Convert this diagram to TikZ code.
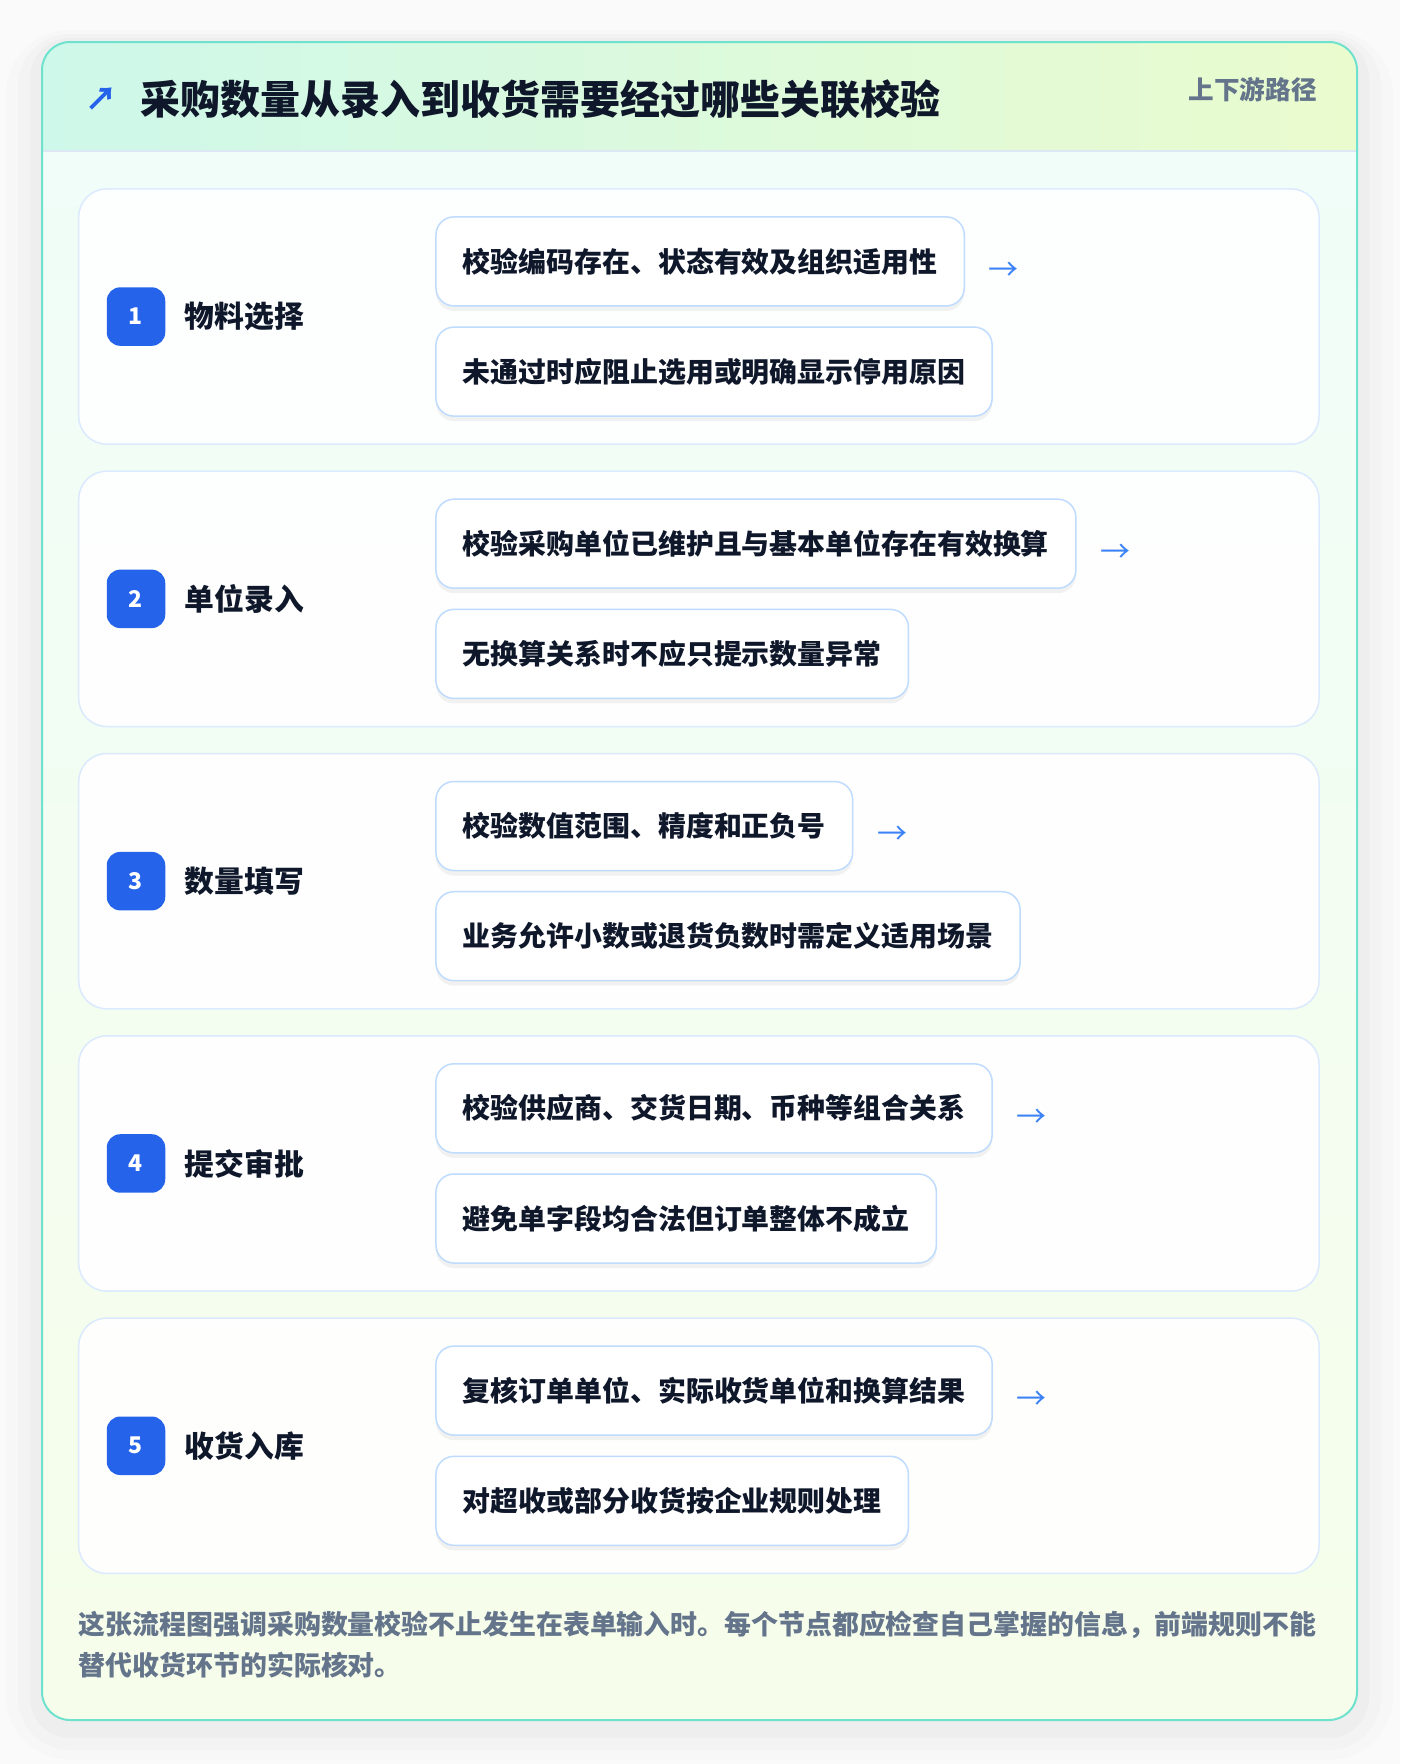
\documentclass[tikz,border=0pt]{standalone}
\usepackage{fontspec}
\setmainfont{Noto Sans CJK SC}
\usetikzlibrary{shadows}

\definecolor{pagebg}{RGB}{250,250,251}
\definecolor{cardline}{RGB}{110,226,205}
\definecolor{headleft}{RGB}{206,248,234}
\definecolor{headright}{RGB}{234,251,206}
\definecolor{bodytop}{RGB}{240,253,248}
\definecolor{bodybottom}{RGB}{246,253,234}
\definecolor{headrule}{RGB}{220,233,245}
\definecolor{rowline}{RGB}{219,234,254}
\definecolor{chkline}{RGB}{191,219,254}
\definecolor{badgeblue}{RGB}{37,99,235}
\definecolor{arrowblue}{RGB}{59,130,246}
\definecolor{ink}{RGB}{15,23,42}
\definecolor{muted}{RGB}{100,116,139}

\begin{document}
\begin{tikzpicture}[x=1pt,y=-1pt,
    rowbox/.style={draw=rowline, line width=1.5pt, fill=white, fill opacity=0.9,
        rounded corners=28pt, minimum width=1240.3pt, minimum height=255.3pt, inner sep=0pt},
    badge/.style={fill=badgeblue, text=white, rounded corners=13.5pt, minimum size=58.5pt,
        inner sep=0pt, font=\fontsize{23}{23}\selectfont\bfseries},
    steplabel/.style={anchor=west, inner sep=0pt, text=ink, font=\fontsize{29.8}{30}\selectfont\bfseries},
    chkbox/.style={anchor=west, draw=chkline, line width=1.5pt, fill=white, rounded corners=18pt,
        minimum height=89pt, inner xsep=27pt, inner ysep=0pt, text=ink,
        font=\fontsize{27.9}{28}\selectfont\bfseries,
        drop shadow={shadow xshift=0pt, shadow yshift=-5pt, opacity=0.05, fill=black}},
    nextarrow/.style={anchor=west, inner sep=0pt, xshift=23.6pt, yshift=-9.5pt, text=arrowblue,
        font=\fontsize{30}{30}\selectfont}]
\useasboundingbox (0,0) rectangle (1400,1764);
\fill[pagebg] (0,0) rectangle (1400,1764);

% card shadow
\fill[black, opacity=0.012, rounded corners=64pt] (6,30) rectangle (1393,1760);
\fill[black, opacity=0.015, rounded corners=52pt] (18,34) rectangle (1381,1750);
\fill[black, opacity=0.02, rounded corners=40pt] (30,38) rectangle (1369,1738);

% card
\begin{scope}
    \clip[rounded corners=28pt] (42,42) rectangle (1357,1720);
    \shade[top color=bodytop, bottom color=bodybottom] (42,151) rectangle (1357,1720);
    \shade[left color=headleft, right color=headright] (42,42) rectangle (1357,151);
    \draw[headrule, line width=1.5pt] (42,151) -- (1357,151);
\end{scope}
\draw[cardline, line width=2pt, rounded corners=28pt] (42,42) rectangle (1357,1720);

% header
\node[text=badgeblue, font=\fontsize{32}{32}\selectfont\bfseries, inner sep=0pt] (icon) at (101,99) {↗};
\node[anchor=west, inner sep=0pt, text=ink, font=\fontsize{40}{40}\selectfont\bfseries] (title) at (140.6,99)
    {采购数量从录入到收货需要经过哪些关联校验};
\node[anchor=east, inner sep=0pt, text=muted, font=\fontsize{25.6}{26}\selectfont\bfseries] (tag) at (1316.8,90)
    {上下游路径};

% step 1
\begin{scope}[shift={(0,188.9)}]
    \node[rowbox] (row1) at (698.85,127.65) {};
    \node[badge] (badge1) at (136,127.65) {1};
    \node[steplabel] (label1) at (184.4,127.65) {物料选择};
    \node[chkbox] (chk1a) at (435.2,72.5) {校验编码存在、状态有效及组织适用性};
    \node[chkbox] (chk1b) at (435.2,182.7) {未通过时应阻止选用或明确显示停用原因};
    \node[nextarrow] (arr1) at (chk1a.east) {→};
\end{scope}

% step 2
\begin{scope}[shift={(0,471.2)}]
    \node[rowbox] (row2) at (698.85,127.65) {};
    \node[badge] (badge2) at (136,127.65) {2};
    \node[steplabel] (label2) at (184.4,127.65) {单位录入};
    \node[chkbox] (chk2a) at (435.2,72.5) {校验采购单位已维护且与基本单位存在有效换算};
    \node[chkbox] (chk2b) at (435.2,182.7) {无换算关系时不应只提示数量异常};
    \node[nextarrow] (arr2) at (chk2a.east) {→};
\end{scope}

% step 3
\begin{scope}[shift={(0,753.5)}]
    \node[rowbox] (row3) at (698.85,127.65) {};
    \node[badge] (badge3) at (136,127.65) {3};
    \node[steplabel] (label3) at (184.4,127.65) {数量填写};
    \node[chkbox] (chk3a) at (435.2,72.5) {校验数值范围、精度和正负号};
    \node[chkbox] (chk3b) at (435.2,182.7) {业务允许小数或退货负数时需定义适用场景};
    \node[nextarrow] (arr3) at (chk3a.east) {→};
\end{scope}

% step 4
\begin{scope}[shift={(0,1035.8)}]
    \node[rowbox] (row4) at (698.85,127.65) {};
    \node[badge] (badge4) at (136,127.65) {4};
    \node[steplabel] (label4) at (184.4,127.65) {提交审批};
    \node[chkbox] (chk4a) at (435.2,72.5) {校验供应商、交货日期、币种等组合关系};
    \node[chkbox] (chk4b) at (435.2,182.7) {避免单字段均合法但订单整体不成立};
    \node[nextarrow] (arr4) at (chk4a.east) {→};
\end{scope}

% step 5
\begin{scope}[shift={(0,1318.1)}]
    \node[rowbox] (row5) at (698.85,127.65) {};
    \node[badge] (badge5) at (136,127.65) {5};
    \node[steplabel] (label5) at (184.4,127.65) {收货入库};
    \node[chkbox] (chk5a) at (435.2,72.5) {复核订单单位、实际收货单位和换算结果};
    \node[chkbox] (chk5b) at (435.2,182.7) {对超收或部分收货按企业规则处理};
    \node[nextarrow] (arr5) at (chk5a.east) {→};
\end{scope}

% footer
\node[anchor=west, inner sep=0pt, align=left, text=muted, font=\fontsize{26.9}{41.6}\selectfont\bfseries] (note) at (78.7,1644.6)
    {这张流程图强调采购数量校验不止发生在表单输入时。每个节点都应检查自己掌握的信息，前端规则不能\\替代收货环节的实际核对。};
\end{tikzpicture}
\end{document}
